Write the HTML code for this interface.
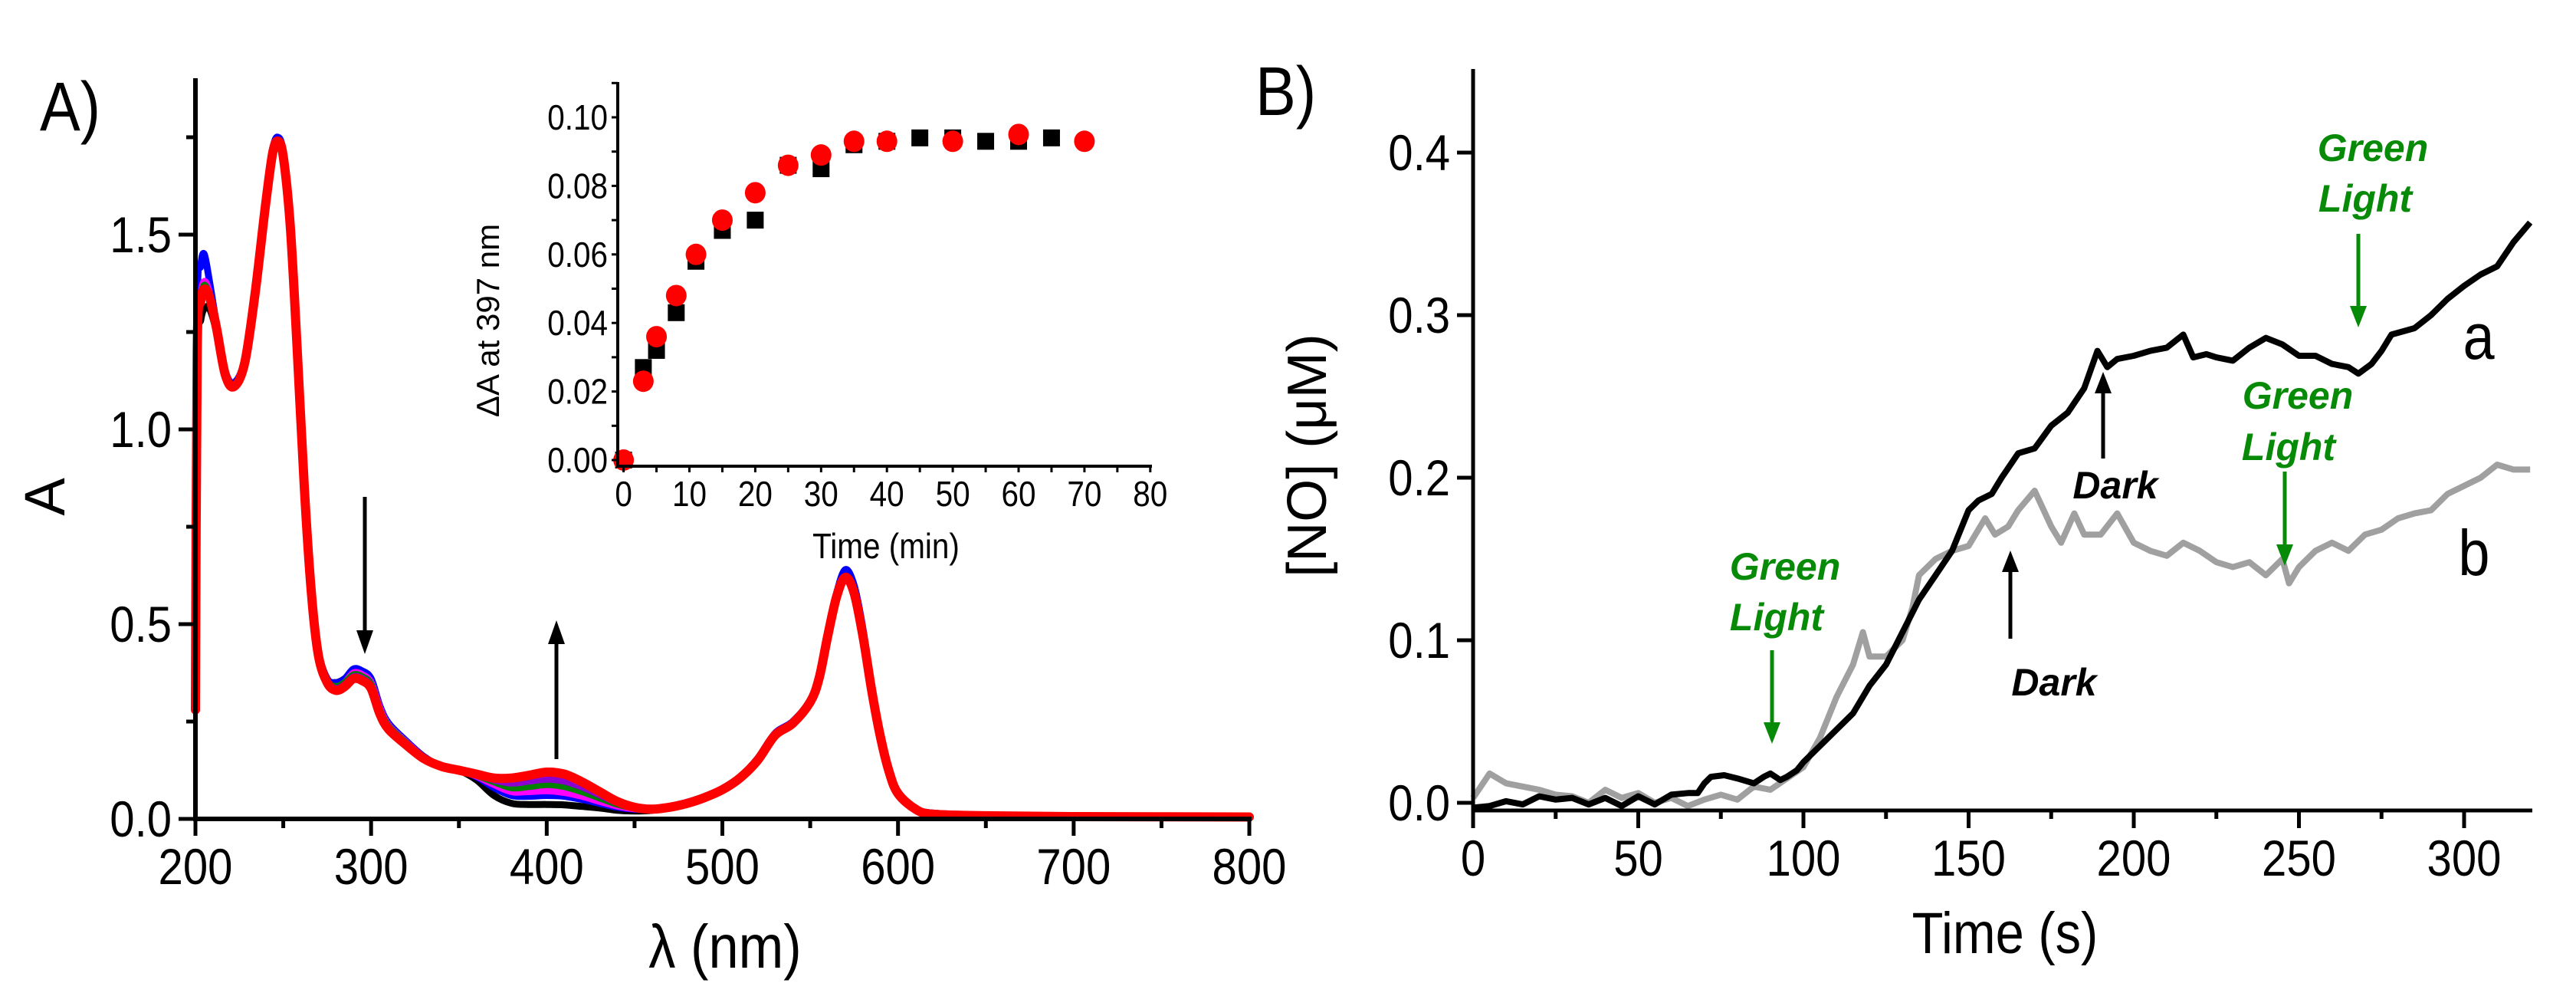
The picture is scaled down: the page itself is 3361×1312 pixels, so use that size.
<!DOCTYPE html>
<html><head><meta charset="utf-8">
<style>
html,body{margin:0;padding:0;background:#fff;}
svg{display:block;}
text{font-family:"Liberation Sans Narrow","Liberation Sans",sans-serif;fill:#000;}
.it{font-family:"Liberation Sans",sans-serif;font-style:italic;font-weight:bold;}
.nc{transform-box:fill-box;transform-origin:center;transform:scaleX(0.88);}
.nr{transform-box:fill-box;transform-origin:right center;transform:scaleX(0.88);}
.nl{transform-box:fill-box;transform-origin:left center;transform:scaleX(0.88);}
</style></head>
<body>
<svg id="fig" width="3361" height="1312" viewBox="0 0 3361 1312" xmlns="http://www.w3.org/2000/svg">
<g id="gA"></g>
<g id="gI"></g>
<g id="gB"></g>
</svg>
<script>
// ---------- Panel A data ----------
const wl = [200,201,203,205,208,212,217,222,228,234,240,244,247,250,254,258,262,266,270,275,280,285,290,295,300,305,310,320,330,340,350,360,370,380,390,400,410,420,430,440,450,460,470,480,490,500,510,520,530,540,550,555,560,565,570,575,580,585,590,595,600,610,620,650,700,800];
const specBlack = [0.28,1.2,1.28,1.31,1.31,1.25,1.14,1.11,1.17,1.35,1.58,1.71,1.74,1.70,1.52,1.20,0.85,0.58,0.43,0.36,0.35,0.36,0.38,0.375,0.36,0.29,0.245,0.2,0.16,0.135,0.125,0.1,0.06,0.04,0.037,0.037,0.036,0.032,0.028,0.022,0.02,0.022,0.03,0.04,0.055,0.075,0.105,0.15,0.215,0.245,0.30,0.36,0.47,0.57,0.62,0.58,0.47,0.33,0.21,0.12,0.065,0.025,0.012,0.008,0.006,0.005];
const specBlue = [0.28,1.3,1.42,1.45,1.38,1.27,1.15,1.12,1.18,1.36,1.59,1.72,1.75,1.71,1.53,1.21,0.86,0.59,0.43,0.36,0.35,0.36,0.385,0.38,0.36,0.29,0.245,0.2,0.16,0.135,0.125,0.108,0.08,0.06,0.058,0.06,0.058,0.05,0.04,0.03,0.025,0.025,0.032,0.043,0.058,0.078,0.108,0.155,0.22,0.25,0.305,0.37,0.48,0.58,0.64,0.6,0.49,0.34,0.22,0.13,0.07,0.028,0.015,0.01,0.008,0.007];
const specMagenta = [0.28,1.22,1.34,1.38,1.35,1.26,1.14,1.11,1.17,1.35,1.58,1.71,1.74,1.70,1.52,1.20,0.85,0.58,0.425,0.355,0.34,0.35,0.375,0.37,0.35,0.285,0.24,0.197,0.158,0.135,0.125,0.11,0.088,0.07,0.07,0.072,0.068,0.058,0.045,0.033,0.026,0.024,0.03,0.04,0.055,0.075,0.105,0.15,0.215,0.245,0.30,0.36,0.47,0.57,0.62,0.58,0.47,0.33,0.21,0.12,0.065,0.025,0.012,0.008,0.006,0.005];
const specGreen = [0.28,1.22,1.33,1.37,1.34,1.26,1.14,1.11,1.17,1.35,1.58,1.71,1.74,1.70,1.52,1.20,0.85,0.58,0.425,0.355,0.34,0.35,0.37,0.365,0.345,0.28,0.237,0.195,0.157,0.135,0.125,0.112,0.095,0.08,0.083,0.088,0.083,0.07,0.054,0.038,0.028,0.024,0.03,0.04,0.055,0.075,0.105,0.15,0.215,0.245,0.30,0.36,0.47,0.57,0.62,0.58,0.47,0.33,0.21,0.12,0.065,0.025,0.012,0.008,0.006,0.005];
const specPurple = [0.28,1.21,1.33,1.36,1.34,1.26,1.14,1.11,1.17,1.35,1.58,1.71,1.74,1.70,1.52,1.20,0.85,0.58,0.42,0.352,0.335,0.345,0.365,0.36,0.34,0.275,0.234,0.193,0.156,0.135,0.125,0.114,0.1,0.092,0.097,0.102,0.097,0.082,0.062,0.042,0.029,0.024,0.03,0.04,0.055,0.075,0.105,0.15,0.215,0.245,0.30,0.36,0.47,0.57,0.62,0.58,0.47,0.33,0.21,0.12,0.065,0.025,0.012,0.008,0.006,0.005];
const specRed = [0.28,1.2,1.33,1.36,1.34,1.26,1.14,1.11,1.17,1.35,1.58,1.71,1.74,1.70,1.52,1.20,0.85,0.58,0.42,0.35,0.33,0.34,0.36,0.355,0.335,0.27,0.23,0.19,0.155,0.135,0.125,0.115,0.105,0.105,0.112,0.12,0.115,0.095,0.07,0.045,0.03,0.025,0.03,0.04,0.055,0.075,0.105,0.15,0.215,0.245,0.30,0.36,0.47,0.57,0.62,0.58,0.47,0.33,0.21,0.12,0.065,0.025,0.012,0.008,0.006,0.005];
const aXTicks = [200,300,400,500,600,700,800];
const aYTicks = [0.0,0.5,1.0,1.5];
// ---------- Inset data ----------
const insetSqT = [0,3,5,8,11,15,20,25,30,35,40,45,50,55,60,65];
const insetSqV = [0.0,0.027,0.032,0.043,0.058,0.067,0.070,0.086,0.085,0.092,0.093,0.094,0.094,0.093,0.093,0.094];
const insetCirT = [0,3,5,8,11,15,20,25,30,35,40,50,60,70];
const insetCirV = [0.0,0.023,0.036,0.048,0.060,0.070,0.078,0.086,0.089,0.093,0.093,0.093,0.095,0.093];
const iXTicks = [0,10,20,30,40,50,60,70,80];
const iYTicks = [0.00,0.02,0.04,0.06,0.08,0.10];
// ---------- Panel B data ----------
const tA = [0,5,10,15,20,25,30,35,40,45,50,55,60,65,68,70,72,76,80,85,88,90,93,95,98,100,105,110,115,120,125,130,135,140,145,150,153,157,160,165,170,175,180,185,189,192,195,200,205,210,215,218,222,225,230,235,240,245,250,255,260,265,268,272,275,278,285,290,295,300,305,310,315,320];
const nA = [-0.003,-0.002,0.001,-0.001,0.004,0.002,0.003,-0.001,0.003,-0.002,0.004,-0.001,0.005,0.006,0.006,0.012,0.016,0.017,0.015,0.012,0.016,0.018,0.014,0.016,0.02,0.025,0.035,0.045,0.055,0.072,0.085,0.105,0.125,0.14,0.155,0.18,0.186,0.19,0.2,0.215,0.218,0.232,0.24,0.255,0.278,0.268,0.273,0.275,0.278,0.28,0.288,0.274,0.276,0.274,0.272,0.28,0.286,0.282,0.275,0.275,0.27,0.268,0.264,0.27,0.278,0.288,0.292,0.3,0.31,0.318,0.325,0.33,0.345,0.357];
const tB = [0,3,5,10,15,20,25,30,35,40,45,50,55,60,65,70,75,80,85,90,95,100,105,110,115,118,120,125,130,133,135,140,145,150,155,158,162,165,170,175,178,182,185,190,195,200,205,210,215,220,225,230,235,240,245,247,250,255,260,265,270,275,280,285,290,295,300,305,310,315,320];
const nB = [0.003,0.012,0.018,0.012,0.01,0.008,0.005,0.004,0.0,0.008,0.003,0.006,0.0,0.003,-0.002,0.002,0.005,0.002,0.01,0.008,0.015,0.022,0.04,0.065,0.085,0.105,0.09,0.09,0.1,0.12,0.14,0.15,0.155,0.158,0.175,0.165,0.17,0.18,0.192,0.17,0.16,0.178,0.165,0.165,0.178,0.16,0.155,0.152,0.16,0.155,0.148,0.145,0.148,0.14,0.15,0.135,0.145,0.155,0.16,0.155,0.165,0.168,0.175,0.178,0.18,0.19,0.195,0.2,0.208,0.205,0.205];
const bXTicks = [0,50,100,150,200,250,300];
const bYTicks = [0.0,0.1,0.2,0.3,0.4];

const NS = "http://www.w3.org/2000/svg";
function mk(parent, tag, attrs, txt){
  const e = document.createElementNS(NS, tag);
  for (const k in attrs) e.setAttribute(k, attrs[k]);
  if (txt !== undefined) e.textContent = txt;
  parent.appendChild(e);
  return e;
}
function smoothPath(P){
  let d = 'M'+P[0][0].toFixed(1)+','+P[0][1].toFixed(1);
  for (let i=0;i<P.length-1;i++){
    const p0=P[Math.max(0,i-1)],p1=P[i],p2=P[i+1],p3=P[Math.min(P.length-1,i+2)];
    const c1=[p1[0]+(p2[0]-p0[0])/6,p1[1]+(p2[1]-p0[1])/6];
    const c2=[p2[0]-(p3[0]-p1[0])/6,p2[1]-(p3[1]-p1[1])/6];
    d+=' C'+c1[0].toFixed(1)+','+c1[1].toFixed(1)+' '+c2[0].toFixed(1)+','+c2[1].toFixed(1)+' '+p2[0].toFixed(1)+','+p2[1].toFixed(1);
  }
  return d;
}
const axA = v => 255 + (v-200)*2.2917;
const ayA = v => 1068 - v*508;
const axI = v => 813.6 + v*8.59;
const ayI = v => 600 - v*4470;
const axB = v => 1922 + v*4.31;
const ayB = v => 1047 - v*2120;

const gA = document.getElementById('gA');
const gI = document.getElementById('gI');
const gB = document.getElementById('gB');

// ===== Panel A =====
const specs = [[specBlack,'#000','spectrum-initial'],[specBlue,'#0000ff','spectrum-blue'],[specMagenta,'#ff00ff','spectrum-magenta'],[specGreen,'#008000','spectrum-green'],[specPurple,'#8b00d0','spectrum-purple'],[specRed,'#ff0000','spectrum-final']];
specs.forEach(s=>{
  const P = wl.map((w,i)=>[axA(w),ayA(s[0][i])]);
  const p = mk(gA,'path',{d:smoothPath(P),fill:'none',stroke:s[1],'stroke-width':s[1]==='#ff0000'?12:9,'stroke-linejoin':'round','stroke-linecap':'round'});
  
  
});
let e = mk(gA,'line',{x1:255,y1:102,x2:255,y2:1071,stroke:'#000','stroke-width':6});
 
e = mk(gA,'line',{x1:252,y1:1068,x2:1633,y2:1068,stroke:'#000','stroke-width':6});
 
for (let v=200; v<=800; v+=50){
  const major = v%100===0;
  mk(gA,'line',{x1:axA(v),y1:1068,x2:axA(v),y2:major?1090:1080,stroke:'#000','stroke-width':5});
}
aXTicks.forEach(v=>{
  const t = mk(gA,'text',{x:axA(v),y:1153,'font-size':66,'text-anchor':'middle',class:'nc'},String(v));
   
});
for (let v=0; v<=1.76; v+=0.25){
  const major = Math.abs(v*2-Math.round(v*2))<1e-6;
  mk(gA,'line',{x1:major?233:243,y1:ayA(v),x2:255,y2:ayA(v),stroke:'#000','stroke-width':5});
}
aYTicks.forEach(v=>{
  const t = mk(gA,'text',{x:224,y:ayA(v)+23,'font-size':66,'text-anchor':'end',class:'nr'},v.toFixed(1));
   
});
e = mk(gA,'text',{x:946,y:1262,'font-size':80,'text-anchor':'middle',class:'nc'},'λ (nm)');
 
e = mk(gA,'text',{x:0,y:0,'font-size':74,'text-anchor':'middle',transform:'translate(84,648) rotate(-90)'},'A');
 
e = mk(gA,'text',{x:52,y:170,'font-size':90,class:'nl'},'A)');
 
e = mk(gA,'line',{x1:476,y1:648,x2:476,y2:825,stroke:'#000','stroke-width':5});
 
mk(gA,'polygon',{points:'465,822 487,822 476,853',fill:'#000'});
e = mk(gA,'line',{x1:726,y1:990,x2:726,y2:838,stroke:'#000','stroke-width':5});
 
mk(gA,'polygon',{points:'715,840 737,840 726,809',fill:'#000'});

// ===== Inset =====
insetSqT.forEach((t,i)=>{
  const r = mk(gI,'rect',{x:axI(t)-11,y:ayI(insetSqV[i])-11,width:22,height:22,fill:'#000'});
   
});
insetCirT.forEach((t,i)=>{
  const c = mk(gI,'ellipse',{cx:axI(t),cy:ayI(insetCirV[i]),rx:13.5,ry:14,fill:'#ff0000'});
   
});
e = mk(gI,'line',{x1:806,y1:107,x2:806,y2:610,stroke:'#000','stroke-width':4});
 
e = mk(gI,'line',{x1:804,y1:608,x2:1503,y2:608,stroke:'#000','stroke-width':4});
 
for (let v=0; v<=80; v+=5) mk(gI,'line',{x1:axI(v),y1:608,x2:axI(v),y2:616,stroke:'#000','stroke-width':3});
for (let v=0; v<=0.11; v+=0.01) mk(gI,'line',{x1:798,y1:ayI(v),x2:806,y2:ayI(v),stroke:'#000','stroke-width':3});
iXTicks.forEach(v=>{
  const t = mk(gI,'text',{x:axI(v),y:660,'font-size':46,'text-anchor':'middle',class:'nc'},String(v));
   
});
iYTicks.forEach(v=>{
  const t = mk(gI,'text',{x:793,y:ayI(v)+16,'font-size':46,'text-anchor':'end',class:'nr'},v.toFixed(2));
   
});
e = mk(gI,'text',{x:1156,y:728,'font-size':46,'text-anchor':'middle',class:'nc'},'Time (min)');
 
e = mk(gI,'text',{x:0,y:0,'font-size':42,'text-anchor':'middle',transform:'translate(651,418) rotate(-90)'},'ΔA at 397 nm');
 

// ===== Panel B =====
e = mk(gB,'polyline',{points:tB.map((t,i)=>axB(t).toFixed(1)+','+ayB(nB[i]).toFixed(1)).join(' '),fill:'none',stroke:'#a0a0a0','stroke-width':8,'stroke-linejoin':'round'});
 
e = mk(gB,'polyline',{points:tA.map((t,i)=>axB(t).toFixed(1)+','+ayB(nA[i]).toFixed(1)).join(' '),fill:'none',stroke:'#000','stroke-width':8,'stroke-linejoin':'round'});
 
e = mk(gB,'line',{x1:1922,y1:90,x2:1922,y2:1060,stroke:'#000','stroke-width':5});
 
e = mk(gB,'line',{x1:1920,y1:1057,x2:3304,y2:1057,stroke:'#000','stroke-width':5});
 
for (let v=0; v<=320; v+=25){
  const major = v%50===0;
  mk(gB,'line',{x1:axB(v),y1:1057,x2:axB(v),y2:major?1080:1068,stroke:'#000','stroke-width':5});
}
bXTicks.forEach(v=>{
  const t = mk(gB,'text',{x:axB(v),y:1142,'font-size':66,'text-anchor':'middle',class:'nc'},String(v));
   
});
bYTicks.forEach(v=>{
  mk(gB,'line',{x1:1901,y1:ayB(v),x2:1922,y2:ayB(v),stroke:'#000','stroke-width':5});
  const t = mk(gB,'text',{x:1892,y:ayB(v)+23,'font-size':66,'text-anchor':'end',class:'nr'},v.toFixed(1));
   
});
e = mk(gB,'text',{x:2616,y:1243,'font-size':76,'text-anchor':'middle',class:'nc'},'Time (s)');
 
e = mk(gB,'text',{x:0,y:0,'font-size':72,'text-anchor':'middle',transform:'translate(1730,594) rotate(-90)'},'[NO] (μM)');
 
e = mk(gB,'text',{x:1638,y:150,'font-size':90,class:'nl'},'B)');
 
e = mk(gB,'text',{x:3234,y:468,'font-size':84,'text-anchor':'middle',class:'nc'},'a');
 
e = mk(gB,'text',{x:3228,y:750,'font-size':84,'text-anchor':'middle',class:'nc'},'b');
 
function arrow(x, y1, y2, color, name){
  const g = mk(gB,'g',{});
  
  
  const down = y2>y1;
  mk(g,'line',{x1:x,y1:y1,x2:x,y2:down?y2-26:y2+26,stroke:color,'stroke-width':5});
  mk(g,'polygon',{points:down?`${x-11},${y2-28} ${x+11},${y2-28} ${x},${y2}`:`${x-11},${y2+28} ${x+11},${y2+28} ${x},${y2}`,fill:color});
}
function lbl(x,y,s,color,name){
  const t = mk(gB,'text',{x:x,y:y,'font-size':50,'text-anchor':'middle',class:'it',style:'fill:'+color},s);
  
  
}
arrow(3077,305,427,'#078a07','green-light-arrow-3');
lbl(3096,210,'Green','#078a07','green-light-label-3');
lbl(3086,276,'Light','#078a07','green-light-label-3b');
arrow(2981,615,738,'#078a07','green-light-arrow-2');
lbl(2998,533,'Green','#078a07','green-light-label-2');
lbl(2986,600,'Light','#078a07','green-light-label-2b');
arrow(2312,848,970,'#078a07','green-light-arrow-1');
lbl(2329,756,'Green','#078a07','green-light-label-1');
lbl(2318,822,'Light','#078a07','green-light-label-1b');
arrow(2744,598,485,'#000','dark-arrow-a');
lbl(2760,650,'Dark','#000','dark-label-a');
arrow(2623,833,718,'#000','dark-arrow-b');
lbl(2680,907,'Dark','#000','dark-label-b');
</script>
</body></html>
